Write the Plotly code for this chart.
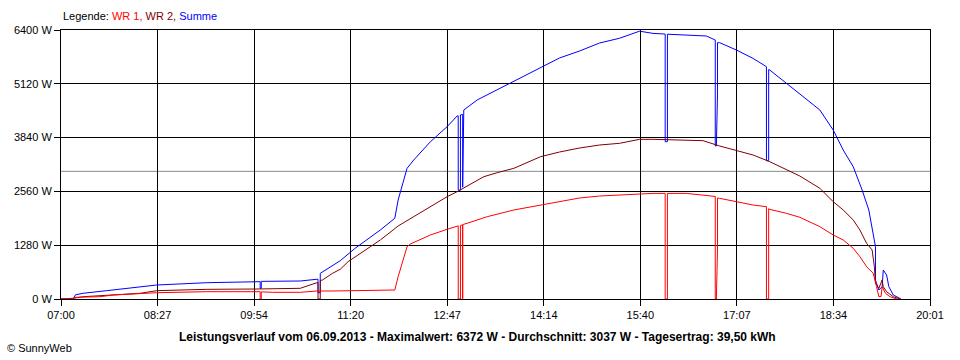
import plotly.graph_objects as go
import pandas as pd

DAY = "2013-09-06 "

# WR 1 (red)
wr1_t = ["07:00","07:11","07:13","07:20","07:35","07:47","08:11","08:26","09:11","09:56",
         "09:59","09:59","10:00","10:00","10:10","10:35","10:50","11:04","11:30","11:58","12:00",
         "12:03","12:11","12:14","12:32","12:47","12:56","12:57","12:57","12:59","12:59",
         "13:01","13:01","13:01","13:05","13:23","13:47","14:11","14:28","14:46","15:04","15:22",
         "15:40","15:52","16:03","16:03","16:05","16:05","16:22","16:40","16:48","16:48","16:49",
         "16:50","16:50","16:52","17:07","17:22","17:34","17:34","17:36","17:36","17:37","17:52",
         "18:04","18:22","18:34","18:43","18:52","18:58","19:04","19:10","19:13","19:15","19:17",
         "19:18","19:21","19:25","19:31","19:35"]
wr1_v = [0,0,40,40,55,95,130,150,174,174,
         174,0,0,170,159,159,190,190,200,214,214,
         531,1244,1309,1523,1658,1737,1740,0,0,1750,
         1760,0,1770,1801,1958,2118,2236,2331,2403,2450,2474,
         2513,2513,2513,0,0,2513,2513,2474,2440,0,0,
         1166,2400,2395,2315,2236,2196,0,0,2150,2132,2038,
         1944,1721,1523,1404,1206,1007,769,611,293,55,60,
         293,135,55,0,0]

# WR 2 (dark red)
wr2_t = ["07:00","07:11","07:20","07:41","08:11","08:26","09:11","09:56","10:35","10:50",
         "10:51","10:51","10:53","10:53","10:55","11:04","11:11","11:18","11:47","12:03","12:17",
         "12:32","12:47","12:56","13:05","13:20","13:32","13:47","14:11","14:28","14:46","15:04",
         "15:22","15:40","15:52","16:22","16:37","16:52","17:07","17:22","17:37","17:52","18:04",
         "18:22","18:34","18:43","18:52","18:58","19:04","19:09","19:11","19:12","19:15","19:18",
         "19:19","19:22","19:28","19:34"]
wr2_v = [0,17,55,95,135,198,230,238,254,388,
         388,0,0,440,452,611,707,888,1404,1737,1958,
         2196,2434,2553,2689,2910,3005,3109,3386,3497,3592,3664,
         3704,3799,3799,3767,3767,3640,3528,3426,3267,3069,2926,
         2634,2315,2118,1880,1642,1325,1166,769,373,254,452,
         293,174,55,0]

# Summe (blue)
sum_t = ["07:00","07:11","07:13","07:20","07:41","08:11","08:26","09:11","09:56",
         "09:59","09:59","10:00","10:00","10:35","10:50","10:51","10:51","10:53","10:53","11:11",
         "11:24","11:47","12:00","12:03","12:11","12:17","12:32","12:47","12:56",
         "12:57","12:57","12:59","12:59","13:01","13:01","13:02","13:14","13:35","13:53",
         "14:11","14:28","14:46","15:04","15:22","15:40","15:52","16:03","16:03","16:05","16:05",
         "16:22","16:40","16:48","16:48","16:49","16:50","16:50","16:52","17:07","17:22",
         "17:34","17:34","17:36","17:36","17:37","17:52","18:04","18:22","18:34","18:43","18:52",
         "19:00","19:06","19:10","19:12","19:12","19:15","19:18","19:19","19:22","19:24",
         "19:28","19:35"]
sum_v = [0,0,100,136,198,300,333,388,412,
         412,254,254,420,428,470,470,150,150,611,911,
         1200,1642,1920,2355,3109,3307,3742,4099,4354,
         4360,2590,2590,4380,4390,2660,4497,4735,5020,5258,
         5496,5734,5900,6090,6204,6372,6320,6304,3742,3742,6300,
         6280,6257,6162,3640,3640,4852,6098,6098,5924,5724,
         5527,3290,3290,5460,5448,5130,4877,4497,4020,3545,3148,
         2593,2118,1563,1244,452,214,293,690,571,293,
         95,0]

y_ticks = [0, 1280, 2560, 3840, 5120, 6400]
y_tick_labels = ["0 W", "1280 W", "2560 W", "3840 W", "5120 W", "6400 W"]
x_tick_labels = ["07:00","08:27","09:54","11:20","12:47","14:14","15:40","17:07","18:34","20:01"]
average = 3037
title_text = ("Leistungsverlauf vom 06.09.2013 - Maximalwert: 6372 W - "
              "Durchschnitt: 3037 W - Tagesertrag: 39,50 kWh")

x_start = pd.Timestamp(DAY + "07:00")
x_end = pd.Timestamp(DAY + "20:01")
tick_pos = pd.date_range(x_start, x_end, periods=len(x_tick_labels))

def ts(lst):
    return [DAY + t for t in lst]

fig = go.Figure()
fig.add_trace(go.Scatter(x=ts(sum_t), y=sum_v, mode="lines", name="Summe",
                         line=dict(color="#0000FF", width=1)))
fig.add_trace(go.Scatter(x=ts(wr2_t), y=wr2_v, mode="lines", name="WR 2",
                         line=dict(color="#800000", width=1)))
fig.add_trace(go.Scatter(x=ts(wr1_t), y=wr1_v, mode="lines", name="WR 1",
                         line=dict(color="#FF0000", width=1)))

fig.add_shape(type="line", xref="paper", x0=0, x1=1, yref="y", y0=average, y1=average,
              line=dict(color="#8C8C8C", width=1), layer="below")

font = dict(family="Liberation Sans, Arial, sans-serif", size=11, color="black")

fig.update_layout(
    width=960, height=360,
    margin=dict(l=61, r=30, t=30, b=61),
    paper_bgcolor="white", plot_bgcolor="white",
    showlegend=False,
    font=font,
    xaxis=dict(type="date", range=[x_start, x_end], tickvals=tick_pos,
               ticktext=x_tick_labels, showgrid=True, gridcolor="black", gridwidth=1,
               showline=True, linecolor="black", linewidth=1, mirror=True,
               ticks="outside", ticklen=6, tickcolor="black", zeroline=False),
    yaxis=dict(range=[0, 6400], tickvals=y_ticks, ticktext=y_tick_labels,
               showgrid=True, gridcolor="black", gridwidth=1,
               showline=True, linecolor="black", linewidth=1, mirror=True,
               ticks="outside", ticklen=6, tickcolor="black", zeroline=False),
)

fig.add_annotation(xref="paper", yref="paper", x=0, y=1 + 14/269, xanchor="left",
                   yanchor="middle", showarrow=False, font=font,
                   text="Legende: <span style='color:#FF0000'>WR 1,</span> "
                        "<span style='color:#800000'>WR 2,</span> "
                        "<span style='color:#0000FF'>Summe</span>")
fig.add_annotation(xref="paper", yref="paper", x=(477-61)/869, y=-38/269,
                   xanchor="center", yanchor="middle", showarrow=False,
                   font=dict(family="Liberation Sans, Arial, sans-serif", size=12, color="black"),
                   text="<b>" + title_text + "</b>")
fig.add_annotation(xref="paper", yref="paper", x=-56/869, y=-49/269,
                   xanchor="left", yanchor="middle", showarrow=False, font=font,
                   text="© SunnyWeb")

fig.write_html("out.html", config={"displayModeBar": False},
               post_script="document.body.style.margin='0';")
